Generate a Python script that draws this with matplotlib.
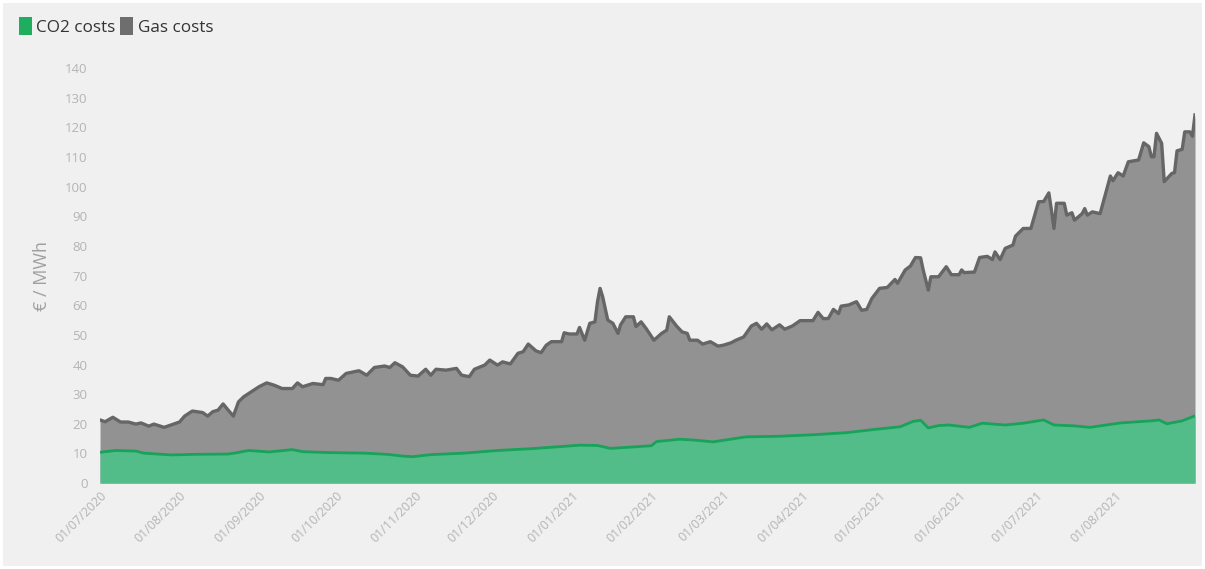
import pandas as pd
import matplotlib.pyplot as plt
import matplotlib.dates as mdates
from matplotlib.patches import Patch

## daily series, day numbers counted from 1 July 2020
start = pd.Timestamp('2020-07-01')

total_days = [0, 2, 5, 8, 11, 14, 16, 19, 21, 25, 28, 31, 33, 36, 40, 42, 44, 46, 48, 50,
              52, 54, 56, 59, 62, 65, 68, 71, 75, 77, 79, 83, 87, 88, 90, 93, 96, 101, 104, 107,
              111, 113, 115, 118, 121, 124, 127, 129, 131, 135, 139, 141, 144, 146, 150, 152, 155, 157, 160, 163,
              165, 167, 170, 172, 174, 176, 180, 181, 183, 186, 187, 189, 191, 193, 194, 195, 196, 198, 200, 202,
              203, 205, 208, 209, 211, 213, 216, 219, 221, 222, 225, 227, 229, 230, 233, 235, 238, 241, 243, 246,
              248, 251, 254, 256, 258, 260, 262, 265, 267, 270, 273, 275, 278, 280, 282, 284, 286, 288, 289, 292,
              295, 297, 299, 301, 304, 307, 310, 311, 314, 316, 318, 320, 321, 323, 324, 327, 330, 332, 335, 336,
              337, 341, 343, 346, 348, 349, 351, 353, 356, 357, 360, 363, 366, 368, 370, 371, 372, 373, 376, 377,
              379, 380, 383, 384, 385, 387, 390, 394, 395, 397, 399, 401, 405, 407, 409, 410, 411, 412, 414, 415,
              418, 419, 420, 422, 423, 425, 426, 427]

# CO2 + gas, EUR/MWh
total_cost = [21.3, 20.7, 22.2, 20.6, 20.6, 19.9, 20.3, 19.2, 19.9, 18.8, 19.7, 20.6, 22.6, 24.3, 23.8, 22.6, 24.1, 24.6, 26.7, 24.6,
              22.6, 27.4, 29.1, 30.8, 32.5, 33.8, 33.0, 31.9, 31.9, 33.8, 32.5, 33.6, 33.2, 35.3, 35.3, 34.7, 37.0, 37.9, 36.4, 39.0,
              39.5, 39.0, 40.6, 39.2, 36.4, 36.1, 38.4, 36.4, 38.4, 38.1, 38.7, 36.4, 35.9, 38.4, 39.8, 41.5, 39.8, 40.9, 40.2, 43.8,
              44.3, 46.9, 44.6, 44.0, 46.5, 47.7, 47.7, 50.7, 50.3, 50.3, 52.5, 48.2, 53.9, 54.4, 61.2, 65.7, 62.9, 55.0, 53.9, 50.5,
              53.4, 56.1, 56.1, 52.8, 54.4, 52.1, 48.2, 50.5, 51.6, 56.1, 52.8, 51.0, 50.5, 48.2, 48.2, 46.9, 47.7, 46.2, 46.5, 47.3,
              48.2, 49.3, 53.0, 53.9, 51.9, 53.7, 51.7, 53.4, 51.9, 53.0, 54.8, 54.8, 54.8, 57.6, 55.5, 55.5, 58.6, 57.2, 59.7, 60.1,
              61.2, 58.3, 58.6, 62.3, 65.7, 66.0, 68.7, 67.4, 71.9, 73.2, 76.1, 76.0, 71.9, 65.1, 69.6, 69.6, 73.0, 70.3, 70.3, 71.9,
              71.0, 71.2, 76.1, 76.5, 75.4, 78.0, 75.4, 79.2, 80.3, 83.3, 85.9, 85.9, 94.9, 95.0, 97.9, 92.2, 85.9, 94.4, 94.4, 90.4,
              91.2, 88.7, 90.9, 92.6, 90.4, 91.5, 90.9, 103.6, 102.0, 104.7, 103.6, 108.4, 109.0, 114.8, 113.5, 110.1, 110.1, 118.0, 114.6, 101.7,
              104.5, 104.7, 112.1, 112.6, 118.5, 118.5, 117.0, 124.2]

co2_days = [0, 6, 14, 17, 28, 37, 50, 53, 58, 66, 75, 79, 89, 103, 112, 118, 122, 129, 142, 155,
            168, 181, 187, 194, 199, 208, 215, 217, 226, 232, 239, 252, 265, 278, 291, 303, 312, 317, 320, 323,
            327, 331, 339, 344, 353, 360, 368, 372, 380, 386, 398, 410, 413, 416, 422, 427]
co2_cost = [10.4, 11.0, 10.8, 10.1, 9.5, 9.7, 9.8, 10.2, 11.0, 10.5, 11.3, 10.6, 10.3, 10.1, 9.7, 9.1, 8.9, 9.6, 10.1, 11.0,
            11.6, 12.4, 12.8, 12.7, 11.7, 12.2, 12.6, 14.0, 14.8, 14.5, 13.9, 15.6, 15.8, 16.3, 17.0, 18.2, 19.0, 20.8, 21.2, 18.6,
            19.4, 19.6, 18.8, 20.2, 19.6, 20.2, 21.3, 19.6, 19.3, 18.8, 20.3, 21.0, 21.3, 20.0, 21.0, 22.7]

tick_months = pd.date_range('2020-07-01', '2021-08-01', freq='MS')

total_dates = start + pd.to_timedelta(total_days, unit='D')
co2_dates = start + pd.to_timedelta(co2_days, unit='D')

plt.rcParams['font.family'] = ['Open Sans', 'DejaVu Sans']

bg = '#f0f0f0'
fig = plt.figure(figsize=(12.05, 5.69), dpi=100, facecolor=bg)
fig.patch.set_edgecolor('white')
fig.patch.set_linewidth(4)
ax = fig.add_axes([0.083, 0.151, 0.9087, 0.7293])
ax.set_facecolor(bg)

## gas sits on top of CO2, so fill the total first and cover the bottom with CO2
ax.fill_between(total_dates, 0, total_cost, color='#929292', lw=0, zorder=1)
ax.plot(total_dates, total_cost, color='#666666', lw=2.4, solid_joinstyle='round', zorder=2)
ax.fill_between(co2_dates, 0, co2_cost, color='#52bd88', lw=0, zorder=3)
ax.plot(co2_dates, co2_cost, color='#17a359', lw=2.0, zorder=4)

ax.set_xlim(total_dates[0], total_dates[-1])
ax.set_ylim(0, 140)
ax.set_yticks(range(0, 141, 10))
ax.set_xticks(tick_months)
ax.xaxis.set_major_formatter(mdates.DateFormatter('%d/%m/%Y'))

for s in ax.spines.values():
    s.set_visible(False)
ax.tick_params(axis='both', length=0, colors='#b4b4b4')
ax.tick_params(axis='y', pad=9, labelsize=9.5)
ax.tick_params(axis='x', pad=4, labelsize=9)
plt.setp(ax.get_xticklabels(), rotation=45, ha='right', va='top', rotation_mode='anchor')

ax.set_ylabel('€ / MWh', color='#a0a0a0', fontsize=13, labelpad=10)

handles = [Patch(facecolor='#1fae60', edgecolor='none', label='CO2 costs'),
           Patch(facecolor='#6e6e6e', edgecolor='none', label='Gas costs')]
fig.legend(handles=handles, loc='upper left', bbox_to_anchor=(0.003, 0.998), ncol=2,
           frameon=False, fontsize=12.3, handlelength=0.75, handleheight=1.3,
           handletextpad=0.25, columnspacing=0.3, labelcolor='#333333')

plt.savefig('out.png', dpi=100, facecolor=bg, edgecolor='white')
